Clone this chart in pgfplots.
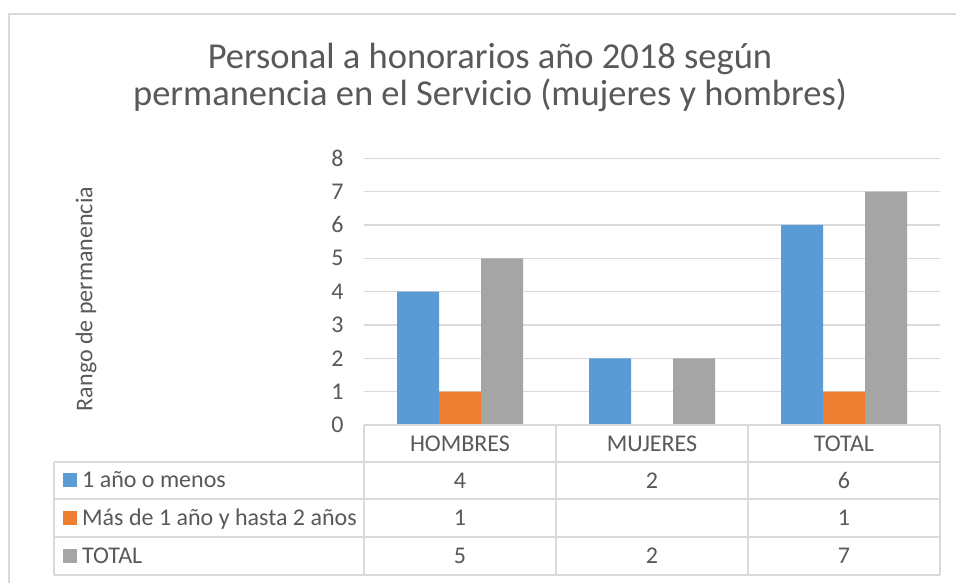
\documentclass[border=0pt]{standalone}
\usepackage{fontspec}
\setmainfont{Carlito}
\usepackage{pgfplots}
\pgfplotsset{compat=1.18}
\definecolor{cblue}{HTML}{5B9BD5}
\definecolor{corange}{HTML}{ED7D31}
\definecolor{cgray}{HTML}{A5A5A5}
\definecolor{tgray}{HTML}{595959}
\definecolor{lgray}{HTML}{D9D9D9}
\newcommand\tf{\fontsize{24pt}{28pt}\selectfont}
\begin{document}
\begin{tikzpicture}[x=1pt,y=1pt]
\useasboundingbox (0,0) rectangle (956,583);
\fill[white] (0,0) rectangle (956,583);
\draw[lgray, line width=2pt] (8.5,-5) -- (8.5,569) -- (961,569);
% title
\node[font=\fontsize{36.5pt}{38pt}\selectfont, text=tgray, anchor=base] at (490,514.3) {Personal a honorarios año 2018 según};
\node[font=\fontsize{36.5pt}{38pt}\selectfont, text=tgray, anchor=base] at (490,477) {permanencia en el Servicio (mujeres y hombres)};
% y label
\node[font=\tf, text=tgray, rotate=90, anchor=center] at (86,284) {Rango de permanencia};
\begin{axis}[
  at={(364pt,158pt)}, anchor=south west,
  scale only axis, width=576pt, height=266.7pt,
  xmin=-0.5, xmax=2.5, ymin=0, ymax=8,
  ytick={0,...,8}, xtick={0,1,2}, xticklabels={HOMBRES,MUJERES,TOTAL},
  axis line style={draw=none}, major tick length=0pt,
  ymajorgrids, grid style={lgray, line width=1.2pt},
  tick label style={font=\tf, text=tgray},
  /pgf/number format/assume math mode=true,
  yticklabel style={xshift=-17pt},
  xticklabel style={anchor=center, yshift=-18.5pt},
  clip=false,
]
\addplot[ybar, bar width=42pt, bar shift=-42pt, fill=cblue, draw=none] coordinates {(0,4) (1,2) (2,6)};
\addplot[ybar, bar width=42pt, bar shift=0pt, fill=corange, draw=none] coordinates {(0,1) (2,1)};
\addplot[ybar, bar width=42pt, bar shift=42pt, fill=cgray, draw=none] coordinates {(0,5) (1,2) (2,7)};
% data table values
\addplot[draw=none, mark=none, point meta=explicit, nodes near coords, nodes near coords align={center},
  every node near coord/.append style={anchor=center, font=\tf, text=tgray}]
  coordinates {(0,-1.665) [4] (1,-1.665) [2] (2,-1.665) [6]};
\addplot[draw=none, mark=none, point meta=explicit, nodes near coords, nodes near coords align={center},
  every node near coord/.append style={anchor=center, font=\tf, text=tgray}]
  coordinates {(0,-2.79) [1] (2,-2.79) [1]};
\addplot[draw=none, mark=none, point meta=explicit, nodes near coords, nodes near coords align={center},
  every node near coord/.append style={anchor=center, font=\tf, text=tgray}]
  coordinates {(0,-3.93) [5] (1,-3.93) [2] (2,-3.93) [7]};
\end{axis}
% table grid
\begin{scope}[lgray, line width=1.5pt]
\draw (364,158) -- (940,158);
\draw (54,121) -- (940,121);
\draw (54,84) -- (940,84);
\draw (54,46) -- (940,46);
\draw (54,8) -- (940,8);
\draw (364,158) -- (364,8);
\draw (556,158) -- (556,8);
\draw (748,158) -- (748,8);
\draw (940,158) -- (940,8);
\draw (54,121) -- (54,8);
\end{scope}
% row labels
\fill[cblue] (63,95.5) rectangle (77,109.5);
\fill[corange] (63,58) rectangle (77,72);
\fill[cgray] (63,20) rectangle (77,34);
\node[font=\tf, text=tgray, anchor=base west, inner sep=0pt] at (82,95) {1 año o menos};
\node[font=\tf, text=tgray, anchor=base west, inner sep=0pt] at (82,57.5) {Más de 1 año y hasta 2 años};
\node[font=\tf, text=tgray, anchor=base west, inner sep=0pt] at (82,19.5) {TOTAL};
\end{tikzpicture}
\end{document}
